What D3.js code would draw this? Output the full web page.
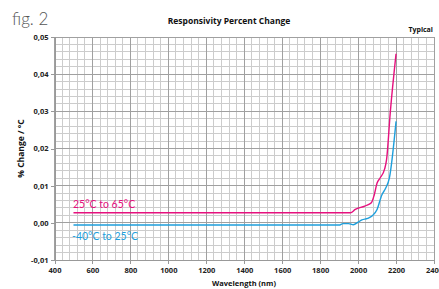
<!DOCTYPE html>
<html><head><meta charset="utf-8">
<script src="https://cdn.jsdelivr.net/npm/d3@7"></script>
<style>body{margin:0;background:#fff}svg{display:block}</style>
</head><body><svg id="c" width="439" height="289"></svg>
<script>
const xTicks = [400,600,800,1000,1200,1400,1600,1800,2000,2200,2400];
const yTicks = [-0.01,0,0.01,0.02,0.03,0.04,0.05];
const yTickLabels = ["-0,01","0,00","0,01","0,02","0,03","0,04","0,05"];
const hotWl =  [500,1960,1985,2035,2070,2085,2100,2115,2140,2150,2170,2200];
const hotVal = [0.0027,0.0027,0.0036,0.0045,0.0054,0.0075,0.0107,0.0120,0.0145,0.0170,0.0300,0.0455];
const coldWl =  [500,1900,1920,1950,1975,2000,2020,2050,2075,2100,2125,2145,2165,2200];
const coldVal = [-0.0006,-0.0006,-0.0002,-0.0002,-0.0005,0.0002,0.0008,0.0012,0.0019,0.0036,0.0075,0.0093,0.0121,0.0273];
const seriesNames = ["25°C to 65°C","-40°C to 25°C"];
const colors = ["#e6117e","#1e9fdc"];

const svg = d3.select("#c");
const L=54.5, R=434, T=37, B=260;
const x = d3.scaleLinear().domain([400,2400]).range([L,R]);
const y = d3.scaleLinear().domain([-0.01,0.05]).range([B,T]);

// minor grid
const minorX = d3.range(400,2401,40);
const minorY = d3.range(-0.01,0.0501,0.002);
const g = svg.append("g").attr("shape-rendering","crispEdges");
g.selectAll(".mx").data(minorX).join("line")
  .attr("x1",d=>x(d)).attr("x2",d=>x(d)).attr("y1",T).attr("y2",B)
  .attr("stroke","#cccccc").attr("stroke-width",1);
g.selectAll(".my").data(minorY).join("line")
  .attr("x1",L).attr("x2",R).attr("y1",d=>y(d)).attr("y2",d=>y(d))
  .attr("stroke","#cccccc").attr("stroke-width",1);
// major grid
g.selectAll(".Mx").data(xTicks).join("line")
  .attr("x1",d=>x(d)).attr("x2",d=>x(d)).attr("y1",T).attr("y2",B)
  .attr("stroke","#a0a0a0").attr("stroke-width",1);
g.selectAll(".My").data(yTicks).join("line")
  .attr("x1",L).attr("x2",R).attr("y1",d=>y(d)).attr("y2",d=>y(d))
  .attr("stroke","#a0a0a0").attr("stroke-width",1);

// axes
const font = "'Open Sans', 'Liberation Sans', sans-serif";
const ya = svg.append("g").attr("transform",`translate(${L},0)`)
  .call(d3.axisLeft(y).tickValues(yTicks).tickSize(4).tickFormat((d,i)=>yTickLabels[i]));
const xa = svg.append("g").attr("transform",`translate(0,${B})`)
  .call(d3.axisBottom(x).tickValues(xTicks).tickSize(4).tickFormat(d3.format("d")));
[ya,xa].forEach(a=>{
  a.attr("shape-rendering","crispEdges");
  a.select(".domain").attr("stroke","#999");
  a.selectAll(".tick line").attr("stroke","#999");
  a.selectAll("text").attr("font-family",font).attr("font-weight","bold")
   .attr("font-size","7.5px").attr("fill","#222");
});
ya.selectAll("text").attr("x",-6);
xa.selectAll("text").attr("y",8);

// lines
const line = d3.line().x(d=>x(d[0])).y(d=>y(d[1])).curve(d3.curveMonotoneX);
const data = [d3.zip(hotWl,hotVal), d3.zip(coldWl,coldVal)];
svg.selectAll(".ln").data(data).join("path")
  .attr("d",line).attr("fill","none")
  .attr("stroke",(d,i)=>colors[i]).attr("stroke-width",1.4);

// series labels
const lab = "'Lato', 'Open Sans', sans-serif";
svg.append("text").attr("x",73).attr("y",208).text(seriesNames[0])
  .attr("font-family",lab).attr("font-size","10.5px").attr("fill",colors[0]);
svg.append("text").attr("x",72).attr("y",240).text(seriesNames[1])
  .attr("font-family",lab).attr("font-size","10.5px").attr("fill",colors[1]);

// titles
svg.append("text").attr("x",229).attr("y",24).attr("text-anchor","middle")
  .text("Responsivity Percent Change").attr("font-family",font)
  .attr("font-weight","bold").attr("font-size","8.5px").attr("fill","#111");
svg.append("text").attr("x",433).attr("y",32).attr("text-anchor","end")
  .text("Typical").attr("font-family",font)
  .attr("font-weight","bold").attr("font-size","7px").attr("fill","#111");
svg.append("text").attr("x",12).attr("y",25)
  .text("fig. 2").attr("font-family","'Lato', sans-serif").attr("font-weight","300")
  .attr("font-size","17px").attr("fill","#555");
svg.append("text").attr("x",244).attr("y",286).attr("text-anchor","middle")
  .text("Wavelength (nm)").attr("font-family",font)
  .attr("font-weight","bold").attr("font-size","7.5px").attr("fill","#111");
svg.append("text").attr("transform",`translate(24,${(T+B)/2}) rotate(-90)`)
  .attr("text-anchor","middle")
  .text("% Change / °C").attr("font-family",font)
  .attr("font-weight","bold").attr("font-size","8.5px").attr("fill","#111");
</script></body></html>
